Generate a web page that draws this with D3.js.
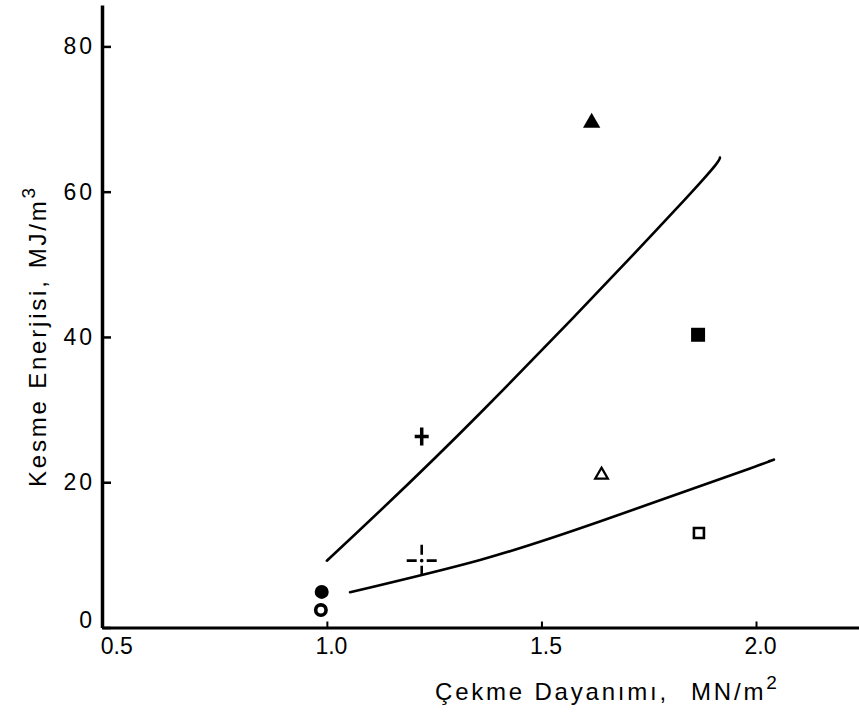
<!DOCTYPE html>
<html>
<head>
<meta charset="utf-8">
<script src="https://cdn.jsdelivr.net/npm/d3@7"></script>
<style>
  body { margin: 0; background: #fff; }
  svg text { font-family: "Liberation Sans", Arial, sans-serif; fill: #000; }
</style>
</head>
<body>
<svg id="chart" width="859" height="716"></svg>
<script>
"use strict";

// tick labels
var xTicks = [0.5, 1.0, 1.5, 2.0];
var yTicks = [0, 20, 40, 60, 80];

// fitted curves
var upperX = [1.0, 1.357, 1.815, 1.916];
var upperY = [9.2, 29.5, 57.7, 64.7];
var lowerX = [1.054, 1.357, 1.636, 1.986, 2.03];
var lowerY = [4.85, 9.3, 14.6, 21.9, 22.9];

// measured points, one symbol each
var pointSymbols = ["triFilled", "sqFilled", "triOpen", "sqOpen", "plus", "dashCross", "dot", "ring"];
var pointX = [1.617, 1.865, 1.64, 1.867, 1.221, 1.221, 0.988, 0.986];
var pointY = [69.5, 40.3, 21.0, 13.0, 26.3, 9.2, 4.9, 2.4];

(function(){
    var svg = d3.select("#chart");

    var x = d3.scaleLinear().domain([0.476, 2.24]).range([102, 859]);
    var y = d3.scaleLinear().domain([0, 85.7]).range([627.5, 5]);

    svg.append("rect").attr("width", 859).attr("height", 716).attr("fill", "#fff");

    // x axis
    var gx = svg.append("g")
        .attr("transform", "translate(0," + y(0) + ")")
        .call(d3.axisBottom(x)
            .tickValues(xTicks)
            .tickFormat(d3.format(".1f"))
            .tickSize(-6)
            .tickSizeOuter(0)
            .tickPadding(10));
    gx.select(".domain").attr("stroke-width", 3);
    gx.selectAll(".tick line").attr("stroke-width", 2)
        .attr("display", function(d){ return d === 0.5 ? "none" : null; });
    gx.selectAll(".tick text")
        .attr("font-size", 23)
        .attr("dx", 4)
        .style("font-family", "Liberation Sans, Arial, sans-serif");

    // y axis
    var gy = svg.append("g")
        .attr("transform", "translate(" + x(0.476) + ",0)")
        .call(d3.axisLeft(y)
            .tickValues(yTicks)
            .tickSize(-9)
            .tickSizeOuter(0)
            .tickPadding(7));
    gy.select(".domain").attr("stroke-width", 3.5);
    gy.selectAll(".tick line").attr("stroke-width", 2.5);
    gy.selectAll(".tick text")
        .attr("font-size", 23)
        .attr("letter-spacing", 3)
        .attr("dy", function(d){ return d === 0 ? "0.0em" : "0.32em"; })
        .style("font-family", "Liberation Sans, Arial, sans-serif");

    // curves
    var line = d3.line()
        .x(function(d){ return x(d[0]); })
        .y(function(d){ return y(d[1]); })
        .curve(d3.curveNatural);

    [[upperX, upperY], [lowerX, lowerY]].forEach(function(c){
        svg.append("path")
            .datum(c[0].map(function(v, i){ return [v, c[1][i]]; }))
            .attr("fill", "none")
            .attr("stroke", "#000")
            .attr("stroke-width", 2.6)
            .attr("stroke-linecap", "round")
            .attr("d", line);
    });

    // points
    var pts = pointSymbols.map(function(s, i){ return { s: s, x: pointX[i], y: pointY[i] }; });

    var g = svg.selectAll("g.pt")
        .data(pts)
        .enter()
        .append("g")
        .attr("class", "pt")
        .attr("transform", function(d){ return "translate(" + x(d.x) + "," + y(d.y) + ")"; });

    g.each(function(d){
        var el = d3.select(this);
        switch(d.s){
            case "triFilled":
                el.append("path").attr("d", d3.symbol(d3.symbolTriangle, 130)())
                    .attr("fill", "#000");
                break;
            case "triOpen":
                el.append("path").attr("d", d3.symbol(d3.symbolTriangle, 70)())
                    .attr("fill", "#fff").attr("stroke", "#000").attr("stroke-width", 2.2);
                break;
            case "sqFilled":
                el.append("path").attr("d", d3.symbol(d3.symbolSquare, 196)())
                    .attr("fill", "#000");
                break;
            case "sqOpen":
                el.append("path").attr("d", d3.symbol(d3.symbolSquare, 100)())
                    .attr("fill", "#fff").attr("stroke", "#000").attr("stroke-width", 2.6);
                break;
            case "plus":
                el.append("path").attr("d", "M-7,0H7M0,-9V9")
                    .attr("stroke", "#000").attr("stroke-width", 3.5);
                break;
            case "dashCross":
                el.append("path").attr("d", "M-15,0H-5M5,0H15M0,-16V-6M0,5V15")
                    .attr("stroke", "#000").attr("stroke-width", 2.6);
                el.append("circle").attr("r", 1.8).attr("fill", "#000");
                break;
            case "dot":
                el.append("circle").attr("r", 7).attr("fill", "#000");
                break;
            case "ring":
                el.append("circle").attr("r", 5.2)
                    .attr("fill", "#fff").attr("stroke", "#000").attr("stroke-width", 3.6);
                break;
        }
    });

    // axis titles
    var xt = svg.append("text")
        .attr("x", 435).attr("y", 700)
        .attr("font-size", 24)
        .attr("letter-spacing", 2.8);
    xt.append("tspan").text("Çekme Dayanımı,");
    xt.append("tspan").attr("dx", 22).text("MN/m");
    xt.append("tspan").attr("dy", -11).attr("font-size", 19).text("2");

    var yt = svg.append("text")
        .attr("transform", "translate(46,487) rotate(-90)")
        .attr("font-size", 24)
        .attr("letter-spacing", 2.8);
    yt.append("tspan").text("Kesme Enerjisi,");
    yt.append("tspan").attr("dx", 10).text("MJ/m");
    yt.append("tspan").attr("dy", -11).attr("font-size", 19).text("3");
})();
</script>
</body>
</html>
